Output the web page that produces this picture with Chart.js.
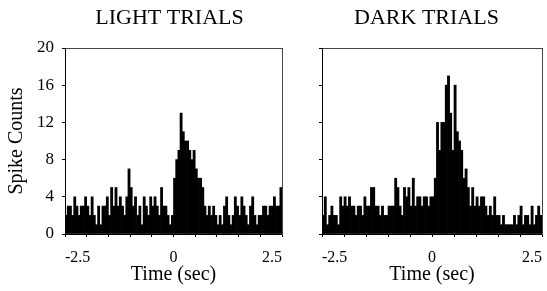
<!DOCTYPE html>
<html>
<head>
<meta charset="utf-8">
<script src="https://cdn.jsdelivr.net/npm/chart.js@4.4.1/dist/chart.umd.min.js"></script>
<style>
  html, body { margin: 0; padding: 0; background: #fff; }
  #wrap { position: relative; width: 547px; height: 291px; overflow: hidden; }
  #wrap canvas { position: absolute; top: 0; }
  #light { left: 0; }
  #dark { left: 310px; }
</style>
</head>
<body>
<div id="wrap">
  <canvas id="light" width="339" height="291"></canvas>
  <canvas id="dark" width="233" height="291"></canvas>
</div>
<script>
// 50 ms bins from -2.5 s to +2.5 s
const binStart = -2.5;
const binWidth = 0.05;

const lightCounts = [
  2, 3, 3, 2, 4, 3, 2, 3, 3, 4,
  3, 2, 4, 2, 1, 3, 1, 3, 3, 4,
  2, 5, 3, 5, 3, 4, 3, 2, 4, 7,
  5, 3, 4, 2, 3, 1, 4, 3, 2, 4,
  3, 4, 3, 2, 5, 3, 3, 2, 1, 2,
  6, 8, 9, 13, 11, 10, 10, 9, 8, 9,
  7, 6, 6, 5, 3, 2, 3, 2, 3, 2,
  1, 2, 1, 3, 4, 2, 1, 2, 4, 3,
  2, 4, 3, 2, 1, 3, 4, 2, 1, 2,
  2, 3, 3, 2, 3, 3, 4, 3, 3, 5
];

const darkCounts = [
  2, 4, 1, 2, 3, 2, 2, 1, 4, 3,
  4, 3, 4, 3, 3, 2, 3, 3, 2, 4,
  3, 3, 5, 5, 3, 3, 2, 3, 2, 2,
  3, 3, 3, 6, 5, 3, 2, 5, 4, 5,
  3, 6, 3, 4, 4, 3, 4, 4, 3, 4,
  4, 6, 12, 9, 12, 12, 16, 17, 13, 9,
  16, 11, 10, 9, 6, 7, 5, 3, 5, 3,
  4, 3, 4, 4, 3, 2, 3, 2, 4, 2,
  2, 1, 2, 1, 1, 1, 1, 2, 1, 2,
  3, 1, 2, 2, 1, 3, 1, 2, 3, 2
];

const xTickLabels = [-2.5, 0, 2.5];
const yMax = 20;
const yStep = 4;

const serif = 'Liberation Serif';

function toPoints(counts) {
  return counts.map((c, i) => ({ x: binStart + binWidth * (i + 0.5), y: c }));
}

function makeChart(id, title, counts, cfg) {
  const ctx = document.getElementById(id).getContext('2d');
  return new Chart(ctx, {
    type: 'bar',
    data: {
      datasets: [{
        data: toPoints(counts),
        backgroundColor: '#000',
        borderWidth: 0,
        barPercentage: 1,
        categoryPercentage: 1
      }]
    },
    options: {
      responsive: false,
      animation: false,
      events: [],
      layout: { padding: 0 },
      plugins: {
        legend: { display: false },
        tooltip: { enabled: false },
        title: {
          display: true,
          text: title,
          color: '#000',
          font: { family: serif, size: 22, weight: 'normal' },
          padding: { top: 5, bottom: 16.6 }
        }
      },
      scales: {
        x: {
          type: 'linear',
          min: -2.5,
          max: 2.5,
          offset: false,
          grid: { offset: false, drawOnChartArea: false, tickLength: 3, color: '#000' },
          border: { color: '#000', width: 1 },
          ticks: {
            stepSize: 0.5,
            autoSkip: false,
            maxRotation: 0,
            align: 'inner',
            padding: 11,
            color: '#000',
            font: { family: serif, size: 16 },
            callback: (v) => xTickLabels.includes(v) ? String(v) : ''
          },
          title: {
            display: true,
            text: 'Time (sec)',
            color: '#000',
            font: { family: serif, size: 20 },
            padding: { top: 0, bottom: 4 }
          },
          afterFit: (s) => {
            s.height = 57;
            // labels sit inside the box, so no side padding is needed
            s.paddingLeft = 0;
            s.paddingRight = 0;
          }
        },
        x2: {
          type: 'linear',
          position: 'top',
          min: -2.5,
          max: 2.5,
          grid: { display: false },
          ticks: { display: false },
          border: { color: '#444', width: 1 },
          afterFit: (s) => { s.height = 0; s.paddingLeft = 0; s.paddingRight = 0; }
        },
        y: {
          min: 0,
          max: yMax,
          grid: { drawOnChartArea: false, tickLength: 3, color: '#000' },
          border: { color: '#000', width: 1 },
          ticks: {
            stepSize: yStep,
            padding: 8,
            color: '#000',
            font: { family: serif, size: 17 },
            callback: cfg.yLabels ? (v) => String(v) : () => ''
          },
          title: {
            display: cfg.yLabels,
            text: 'Spike Counts',
            color: '#000',
            font: { family: serif, size: 20 },
            padding: { top: 5, bottom: 0 }
          },
          afterFit: (s) => { s.width = cfg.leftWidth; }
        },
        y2: {
          type: 'linear',
          position: 'right',
          min: 0,
          max: yMax,
          grid: { display: false },
          ticks: { display: false },
          border: { color: '#444', width: 1 },
          afterFit: (s) => { s.width = cfg.rightWidth; }
        }
      }
    }
  });
}

makeChart('light', 'LIGHT TRIALS', lightCounts, { yLabels: true, leftWidth: 65, rightWidth: 57 });
makeChart('dark', 'DARK TRIALS', darkCounts, { yLabels: false, leftWidth: 12, rightWidth: 1 });
</script>
</body>
</html>
